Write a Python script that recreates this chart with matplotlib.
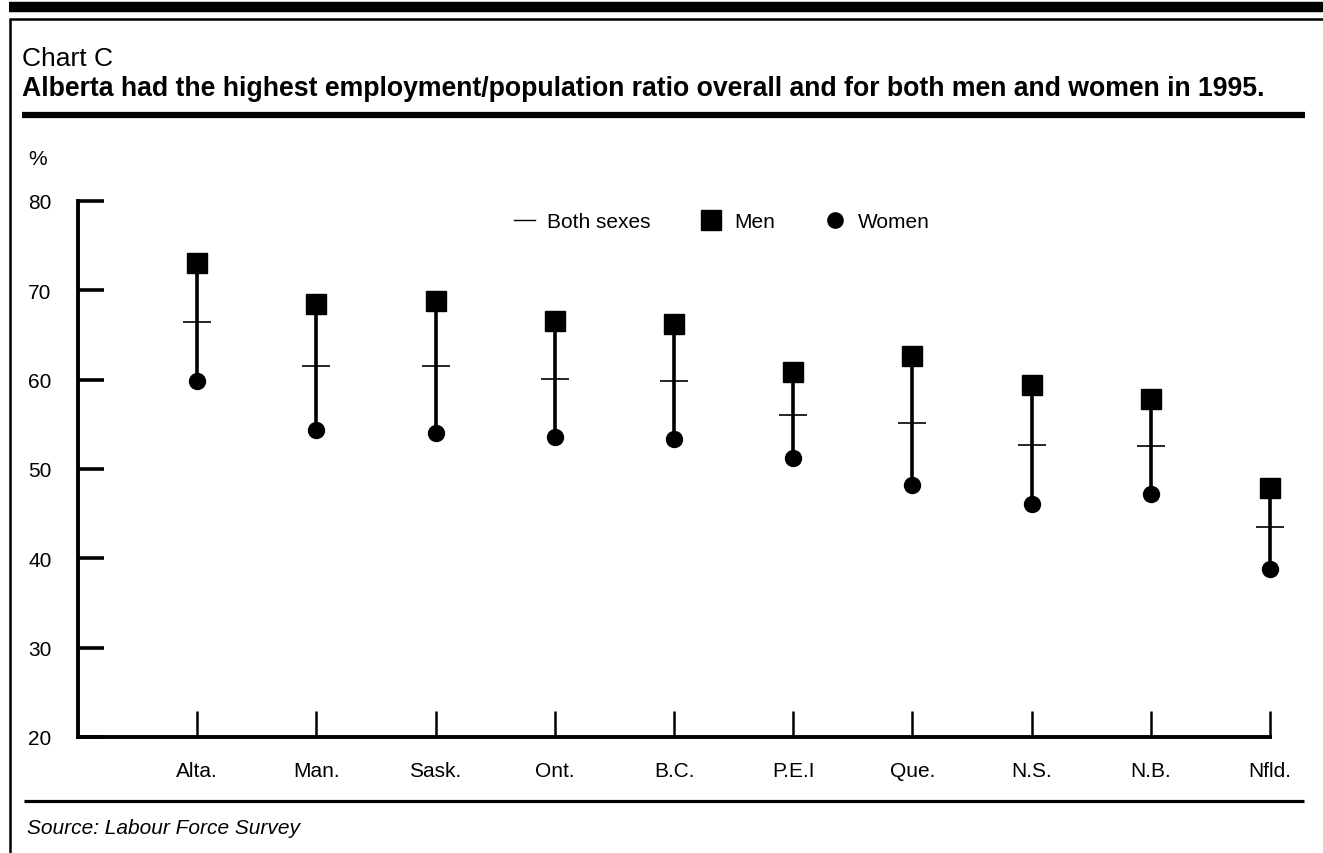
import matplotlib.pyplot as plt
from matplotlib.lines import Line2D

plt.rcParams['font.family'] = ['Liberation Sans', 'DejaVu Sans']

# provinces, sorted as in the chart
provinces = ['Alta.', 'Man.', 'Sask.', 'Ont.', 'B.C.', 'P.E.I', 'Que.', 'N.S.', 'N.B.', 'Nfld.']
# employment/population ratio, 1995 (%)
men = [73.1, 68.5, 68.8, 66.6, 66.2, 60.9, 62.6, 59.4, 57.8, 47.9]
both_sexes = [66.5, 61.5, 61.5, 60.1, 59.9, 56.1, 55.2, 52.7, 52.6, 43.5]
women = [59.8, 54.4, 54.0, 53.6, 53.4, 51.2, 48.2, 46.1, 47.2, 38.8]
y_ticks = [20, 30, 40, 50, 60, 70, 80]

W, H = 1323, 854
fig = plt.figure(figsize=(W / 100, H / 100), dpi=100)


def px(x0, y0, x1, y1, lw):
    # line in figure pixel coordinates (y from the top)
    fig.add_artist(Line2D([x0 / W, x1 / W], [1 - y0 / H, 1 - y1 / H],
                          color='black', lw=lw, solid_capstyle='butt'))


# frame lines
px(9, 8, W, 8, 7.5)
px(9, 20, W, 20, 1.8)
px(10, 20, 10, H, 1.8)
px(22, 116, 1305, 116, 4.5)
px(24, 802, 1304, 802, 2.3)

fig.text(22 / W, 1 - 66 / H, 'Chart C', fontsize=19, va='baseline')
fig.text(22 / W, 1 - 96 / H,
         'Alberta had the highest employment/population ratio overall and for both men and women in 1995.',
         fontsize=19.2, fontweight='bold', va='baseline')
fig.text(28 / W, 1 - 165 / H, '%', fontsize=15, va='baseline')
fig.text(27 / W, 1 - 834 / H, 'Source: Labour Force Survey', fontsize=15,
         style='italic', va='baseline')

ax = fig.add_axes([78 / W, (H - 738) / H, (1270 - 78) / W, (738 - 202) / H])
x = list(range(1, len(provinces) + 1))

ax.vlines(x, women, men, color='black', lw=2.6, zorder=2, clip_on=False)
ax.plot(x, both_sexes, ls='none', marker='_', ms=20, mew=1.2, color='black',
        zorder=3, clip_on=False)
ax.plot(x, men, ls='none', marker='s', ms=14.5, color='black', zorder=4, clip_on=False)
ax.plot(x, women, ls='none', marker='o', ms=11.5, color='black', zorder=4, clip_on=False)

ax.set_xlim(0, 10)
ax.set_ylim(20, 80)
ax.set_xticks(x)
ax.set_xticklabels(provinces)
ax.set_yticks(y_ticks)
ax.tick_params(axis='x', direction='in', length=19, width=1.8, pad=17, labelsize=15)
ax.tick_params(axis='y', direction='in', length=19, width=2.6, pad=19, labelsize=15)
for s in ['top', 'right']:
    ax.spines[s].set_visible(False)
for s in ['left', 'bottom']:
    ax.spines[s].set_linewidth(2.8)
ax.patch.set_alpha(0)

handles = [
    Line2D([], [], color='black', lw=1.0),
    Line2D([], [], ls='none', marker='s', ms=14, color='black'),
    Line2D([], [], ls='none', marker='o', ms=11, color='black'),
]
ax.legend(handles, ['Both sexes', 'Men', 'Women'], ncol=3, frameon=False,
          loc='center', bbox_to_anchor=((722 - 78) / 1192, (738 - 223) / 536),
          fontsize=15, handlelength=1.0, handletextpad=0.6, columnspacing=2.4)

fig.savefig('out.png', dpi=100)
